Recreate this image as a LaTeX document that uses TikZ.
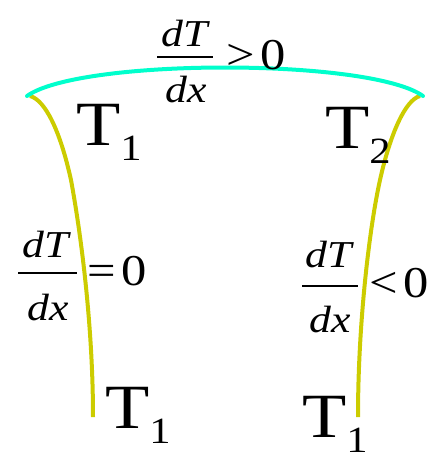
\documentclass[tikz,border=0pt]{standalone}
\usepackage{fontspec}
\setmainfont{Liberation Serif}
\definecolor{cyanline}{HTML}{00FFCC}
\definecolor{yelline}{HTML}{CCCC00}
\newcommand\Tsub[1]{{\fontsize{63}{63}\selectfont T}\raisebox{-15pt}{\fontsize{37}{37}\selectfont #1}}
\newcommand\fracfont{\fontsize{38}{38}\selectfont\itshape}
\newcommand\relfont{\fontsize{44}{44}\selectfont}
\tikzset{
  lbl/.style={inner sep=0pt, outer sep=0pt, anchor=base west, xscale=1.15},
  fr/.style={inner sep=0pt, outer sep=0pt, anchor=base, xscale=1.15, font=\fracfont},
  bar/.style={line width=1.6pt},
  arcline/.style={line width=4pt, draw=cyanline, line cap=round},
  wallline/.style={line width=4pt, draw=yelline}
}
\begin{document}
\begin{tikzpicture}[x=1pt,y=-1pt]
\useasboundingbox (0,0) rectangle (434,453);
% walls
\coordinate (lt) at (30,96);
\coordinate (lm) at (71,180);
\coordinate (lb) at (93,417);
\coordinate (rt) at (420,96);
\coordinate (rm) at (380,180);
\coordinate (rb) at (358,417);
\draw[wallline] (lt) .. controls (45,100) and (60,130) .. (lm) .. controls (82,240) and (93,330) .. (lb);
\draw[wallline] (rt) .. controls (405,100) and (390,135) .. (rm) .. controls (370,225) and (358,320) .. (rb);
% top arc
\coordinate (al) at (27,96);
\coordinate (ar) at (423,96);
\draw[arcline] (al) .. controls (80,58) and (370,58) .. (ar);
% T labels
\node[lbl] (t1a) at (76,145) {\Tsub{1}};
\node[lbl] (t2) at (325,148) {\Tsub{2}};
\node[lbl] (t1b) at (105,428) {\Tsub{1}};
\node[lbl] (t1c) at (302,437) {\Tsub{1}};
% top fraction
\node[fr] (n1) at (185,46) {dT};
\node[fr] (d1) at (186,102) {dx};
\coordinate (b1l) at (157,57);
\coordinate (b1r) at (213,57);
\draw[bar] (b1l) -- (b1r);
\node[lbl, font=\relfont] (r1) at (226,69) {>\hspace{5pt}0};
% left fraction
\node[fr] (n2) at (46,257) {dT};
\node[fr] (d2) at (48,320) {dx};
\coordinate (b2l) at (18,273);
\coordinate (b2r) at (77,273);
\draw[bar] (b2l) -- (b2r);
\node[lbl, font=\relfont] (r2) at (87,285) {=\hspace{5pt}0};
% right fraction
\node[fr] (n3) at (329,267) {dT};
\node[fr] (d3) at (330,332) {dx};
\coordinate (b3l) at (302,286);
\coordinate (b3r) at (358,286);
\draw[bar] (b3l) -- (b3r);
\node[lbl, font=\relfont] (r3) at (369,297) {<\hspace{5pt}0};
\end{tikzpicture}
\end{document}
